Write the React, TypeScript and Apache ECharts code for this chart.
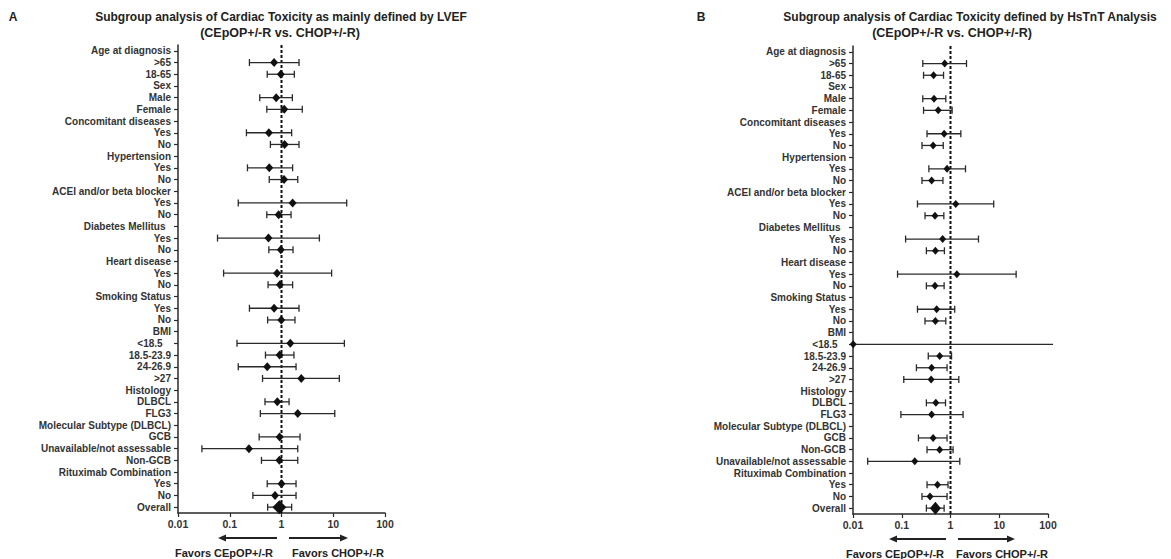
import React, { useEffect, useRef } from "react";
import * as echarts from "echarts";

const categoriesA = [
  "Age at diagnosis", ">65", "18-65", "Sex", "Male", "Female", "Concomitant diseases", "Yes", "No",
  "Hypertension", "Yes", "No", "ACEI and/or beta blocker", "Yes", "No", "Diabetes Mellitus\u00a0\u00a0", "Yes", "No",
  "Heart disease", "Yes", "No", "Smoking Status", "Yes", "No", "BMI", "<18.5\u00a0\u00a0\u00a0", "18.5-23.9", "24-26.9", ">27",
  "Histology", "DLBCL", "FLG3", "Molecular Subtype (DLBCL)", "GCB", "Unavailable/not assessable", "Non-GCB",
  "Rituximab Combination", "Yes", "No", "Overall",
];
const categoriesB = [
  "Age at diagnosis", ">65", "18-65", "Sex", "Male", "Female", "Concomitant diseases", "Yes", "No",
  "Hypertension", "Yes", "No", "ACEI and/or beta blocker", "Yes", "No", "Diabetes Mellitus\u00a0\u00a0", "Yes", "No",
  "Heart disease", "Yes", "No", "Smoking Status", "Yes", "No", "BMI", "<18.5\u00a0\u00a0\u00a0", "18.5-23.9", "24-26.9", ">27",
  "Histology", "DLBCL", "FLG3", "Molecular Subtype (DLBCL)", "GCB", "Non-GCB", "Unavailable/not assessable",
  "Rituximab Combination", "Yes", "No", "Overall",
];

// Panel A (LVEF): lower CI, estimate, upper CI (null = header row)
const lowA = [null, 0.24, 0.53, null, 0.38, 0.52, null, 0.21, 0.61, null, 0.22, 0.58, null, 0.146, 0.52, null, 0.058, 0.57,
  null, 0.076, 0.55, null, 0.24, 0.54, null, 0.138, 0.49, 0.146, 0.43, null, 0.48, 0.39, null, 0.37, 0.029, 0.41, null, 0.53, 0.28, 0.54];
const estA = [null, 0.72, 0.97, null, 0.79, 1.13, null, 0.57, 1.15, null, 0.58, 1.12, null, 1.64, 0.88, null, 0.56, 0.97,
  null, 0.82, 0.93, null, 0.72, 0.99, null, 1.48, 0.92, 0.53, 2.41, null, 0.83, 2.06, null, 0.92, 0.235, 0.91, null, 1.0, 0.75, 0.91];
const highA = [null, 2.18, 1.77, null, 1.62, 2.52, null, 1.57, 2.18, null, 1.64, 2.06, null, 18.2, 1.53, null, 5.4, 1.67,
  null, 9.3, 1.64, null, 2.18, 1.82, null, 16.4, 1.74, 1.91, 13.1, null, 1.4, 10.7, null, 2.28, 2.06, 2.06, null, 1.91, 1.91, 1.57];

// Panel B (HsTnT)
const lowB = [null, 0.27, 0.28, null, 0.27, 0.28, null, 0.33, 0.26, null, 0.36, 0.26, null, 0.21, 0.3, null, 0.12, 0.32,
  null, 0.082, 0.32, null, 0.21, 0.3, null, 0.01, 0.35, 0.2, 0.11, null, 0.32, 0.096, null, 0.22, 0.33, 0.02, null, 0.33, 0.26, 0.32];
const estB = [null, 0.76, 0.45, null, 0.46, 0.56, null, 0.74, 0.44, null, 0.85, 0.41, null, 1.28, 0.48, null, 0.69, 0.49,
  null, 1.35, 0.48, null, 0.52, 0.49, null, 0.0101, 0.6, 0.41, 0.4, null, 0.5, 0.41, null, 0.44, 0.6, 0.185, null, 0.54, 0.38, 0.49];
const highB = [null, 2.13, 0.72, null, 0.8, 1.08, null, 1.63, 0.71, null, 2.03, 0.7, null, 7.7, 0.73, null, 3.75, 0.75,
  null, 22.2, 0.74, null, 1.22, 0.8, null, 127, 1.05, 0.85, 1.48, null, 0.79, 1.81, null, 0.85, 1.13, 1.55, null, 0.89, 0.85, 0.74];

const xTickLabels = ["0.01", "0.1", "1", "10", "100"];
const refValue = 1;

const FONT = "'Liberation Sans', Arial, sans-serif";
const INK = "#2a2a2a";

function buildData(cats: string[], lo: (number | null)[], est: (number | null)[], hi: (number | null)[]) {
  const out: number[][] = [];
  cats.forEach((_, i) => {
    if (est[i] == null) return;
    out.push([i, lo[i] as number, est[i] as number, hi[i] as number, i === cats.length - 1 ? 1 : 0]);
  });
  return out;
}

function makeRender(sm: { w: number; h: number }, big: { w: number; h: number }, cap: number) {
  return (params: any, api: any) => {
    const i = api.value(0);
    const lo = api.value(1);
    const est = api.value(2);
    const hi = api.value(3);
    const isBig = api.value(4) === 1;
    const pLo = api.coord([Math.max(lo, 0.01), i]);
    const pEst = api.coord([est, i]);
    const pHi = api.coord([hi, i]);
    const y = pEst[1];
    const children: any[] = [
      { type: "line", shape: { x1: pLo[0], y1: y, x2: pHi[0], y2: y }, style: { stroke: INK, lineWidth: 1.3 } },
    ];
    if (lo > 0.01) children.push({ type: "line", shape: { x1: pLo[0], y1: y - cap, x2: pLo[0], y2: y + cap }, style: { stroke: INK, lineWidth: 1.3 } });
    if (hi < 100) children.push({ type: "line", shape: { x1: pHi[0], y1: y - cap, x2: pHi[0], y2: y + cap }, style: { stroke: INK, lineWidth: 1.3 } });
    const d = isBig ? big : sm;
    children.push({
      type: "polygon",
      shape: { points: [[pEst[0], y - d.h], [pEst[0] + d.w, y], [pEst[0], y + d.h], [pEst[0] - d.w, y]] },
      style: { fill: "#111" },
    });
    return { type: "group", children };
  };
}

const refRender = (params: any, api: any) => {
  const x = api.coord([api.value(0), 0])[0];
  const cs = params.coordSys;
  return {
    type: "line",
    shape: { x1: x, y1: cs.y, x2: x, y2: cs.y + cs.height },
    style: { stroke: "#111", lineWidth: 2, lineDash: [3, 2] },
  };
};

function yAxis(gridIndex: number, data: string[]) {
  return {
    type: "category",
    gridIndex,
    data,
    inverse: true,
    axisLine: { show: true, lineStyle: { color: INK, width: 1.5 } },
    axisTick: { show: true, alignWithLabel: true, length: 4, lineStyle: { color: INK, width: 1.2 } },
    axisLabel: { interval: 0, margin: 7, fontSize: 10, fontWeight: "bold", color: "#333", fontFamily: FONT },
    splitLine: { show: false },
  };
}

function xAxis(gridIndex: number) {
  return {
    type: "log",
    logBase: 10,
    gridIndex,
    min: 0.01,
    max: 100,
    axisLine: { show: true, onZero: false, lineStyle: { color: INK, width: 1.5 } },
    axisTick: { show: true, length: 4, lineStyle: { color: INK, width: 1.2 } },
    minorTick: { show: false },
    splitLine: { show: false },
    axisLabel: {
      margin: 5,
      fontSize: 10.5,
      fontWeight: "bold",
      color: "#333",
      fontFamily: FONT,
      formatter: (v: number) => xTickLabels[Math.round(Math.log10(v)) + 2],
    },
  };
}

function text(x: number, y: number, t: string, size: number, align = "center") {
  return {
    type: "text",
    x,
    y,
    style: { text: t, fontSize: size, fontWeight: "bold", fontFamily: FONT, fill: "#222", align, verticalAlign: "middle" },
  };
}

function arrow(x1: number, x2: number, y: number) {
  const dir = x2 > x1 ? 1 : -1;
  const hx = x2 - dir * 8;
  return [
    { type: "line", shape: { x1, y1: y, x2: hx, y2: y }, style: { stroke: "#222", lineWidth: 2 } },
    { type: "polygon", shape: { points: [[x2, y], [hx, y - 3.5], [hx, y + 3.5]] }, style: { fill: "#222" } },
  ];
}

export default function App() {
  const ref = useRef<HTMLDivElement>(null);
  useEffect(() => {
    document.body.style.margin = "0";
    const chart = echarts.init(ref.current!, undefined, { renderer: "svg" });
    chart.setOption({
      animation: false,
      backgroundColor: "#fff",
      grid: [
        { left: 178, top: 45, width: 207, height: 468 },
        { left: 853, top: 46, width: 195, height: 468 },
      ],
      xAxis: [xAxis(0), xAxis(1)],
      yAxis: [yAxis(0, categoriesA), yAxis(1, categoriesB)],
      series: [
        { type: "custom", xAxisIndex: 0, yAxisIndex: 0, data: [[refValue, 0]], encode: { x: 0, y: 1 }, renderItem: refRender, z: 1, silent: true },
        { type: "custom", xAxisIndex: 1, yAxisIndex: 1, data: [[refValue, 0]], encode: { x: 0, y: 1 }, renderItem: refRender, z: 1, silent: true },
        {
          type: "custom", xAxisIndex: 0, yAxisIndex: 0, clip: false, z: 2,
          data: buildData(categoriesA, lowA, estA, highA),
          encode: { x: [1, 2, 3], y: 0 },
          renderItem: makeRender({ w: 4, h: 4.5 }, { w: 7, h: 7 }, 3.5),
        },
        {
          type: "custom", xAxisIndex: 1, yAxisIndex: 1, clip: false, z: 2,
          data: buildData(categoriesB, lowB, estB, highB),
          encode: { x: [1, 2, 3], y: 0 },
          renderItem: makeRender({ w: 3.5, h: 4 }, { w: 5.5, h: 6.5 }, 3.5),
        },
      ],
      graphic: [
        text(13, 17, "A", 12),
        text(281, 17, "Subgroup analysis of Cardiac Toxicity as mainly defined by LVEF", 12),
        text(280, 33, "(CEpOP+/-R vs. CHOP+/-R)", 12.5),
        text(701, 17, "B", 12),
        text(970, 17, "Subgroup analysis of Cardiac Toxicity defined by HsTnT Analysis", 12),
        text(952, 33, "(CEpOP+/-R vs. CHOP+/-R)", 12.5),
        ...arrow(277, 218, 538),
        ...arrow(289, 348, 538),
        ...arrow(946, 889, 539),
        ...arrow(958, 1015, 539),
        text(224, 553, "Favors CEpOP+/-R", 11),
        text(338, 553, "Favors CHOP+/-R", 11),
        text(895, 554, "Favors CEpOP+/-R", 11),
        text(1002, 554, "Favors CHOP+/-R", 11),
      ],
    });
    return () => chart.dispose();
  }, []);
  return <div ref={ref} style={{ width: 1171, height: 559 }} />;
}
